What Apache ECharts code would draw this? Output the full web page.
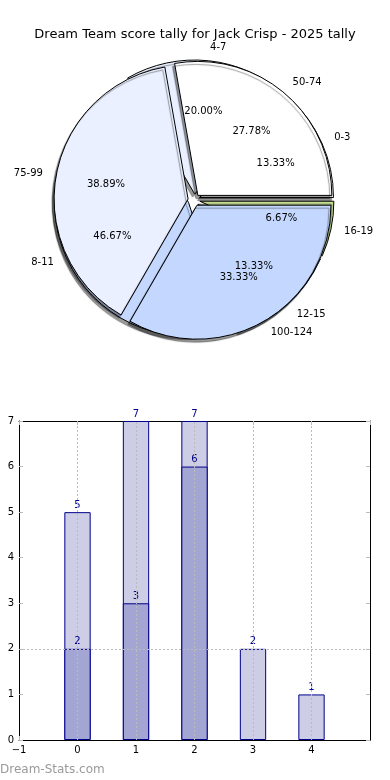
<!DOCTYPE html>
<html><head><meta charset="utf-8">
<script src="https://cdn.jsdelivr.net/npm/echarts@6/dist/echarts.min.js"></script>
<style>html,body{margin:0;padding:0;background:#fff}#c{width:390px;height:780px}</style>
</head><body><div id="c"></div>
<script>
// ---- data ----
const titleText = 'Dream Team score tally for Jack Crisp - 2025 tally';
const pieInnerCats = ['0-3', '4-7', '8-11', '12-15', '16-19'];
const pieInnerVals = [2, 3, 7, 2, 1];
const pieOuterCats = ['50-74', '75-99', '100-124'];
const pieOuterVals = [5, 7, 6];
const barCats = [0, 1, 2, 3, 4];
const barTotal = [5, 7, 7, 2, 1];
const barPart = [2, 3, 6, 0, 0];
const xTicks = [-1, 0, 1, 2, 3, 4];
const yTicks = [0, 1, 2, 3, 4, 5, 6, 7];
const refLineY = [2];
const watermark = 'Dream-Stats.com';

// ---- styles ----
const innerColors = ['#ffffff', '#eaf0ff', '#c4d8ff', '#aac4f0', '#c6df92'];
const outerColors = ['#ffffff', '#eaf0ff', '#c4d8ff'];
const FONT = 'DejaVu Sans';
const C = [194, 200], R = 134, OFF = 6;

function pieSectors(cats, vals, colors, z) {
  return {
    type: 'pie', z: z, center: C, radius: [0, R], startAngle: 0, clockwise: false,
    selectedMode: 'multiple', selectedOffset: OFF, avoidLabelOverlap: false,
    silent: true, emphasis: { disabled: true },
    data: cats.map((n, i) => ({ name: n, value: vals[i], selected: true, itemStyle: { color: colors[i] } })),
    itemStyle: { borderColor: '#000', borderWidth: 1, shadowColor: 'rgba(0,0,0,0.4)', shadowBlur: 1, shadowOffsetX: -2, shadowOffsetY: 3 },
    label: { show: true, position: 'outside', fontSize: 10, color: '#000', fontFamily: FONT, distanceToLabelLine: 0 },
    labelLine: { show: false, length: R * 0.1, length2: 0 }
  };
}
function piePct(cats, vals, z) {
  return {
    type: 'pie', z: z, center: C, radius: [0, R * 1.2], startAngle: 0, clockwise: false,
    selectedMode: 'multiple', selectedOffset: OFF, avoidLabelOverlap: false,
    silent: true, emphasis: { disabled: true },
    data: cats.map((n, i) => ({ name: n, value: vals[i], selected: true })),
    itemStyle: { color: 'rgba(0,0,0,0)', borderWidth: 0 },
    label: { show: true, position: 'inside', fontSize: 10, color: '#000', fontFamily: FONT,
      formatter: p => p.percent.toFixed(2) + '%' },
    labelLine: { show: false }
  };
}

const tickStyle = { inside: true, length: 4, lineStyle: { color: '#bbb', width: 1 } };
const axisLineStyle = { show: true, onZero: false, lineStyle: { color: '#000', width: 1 } };

const option = {
  animation: false,
  textStyle: { fontFamily: FONT },
  title: { text: titleText, left: 'center', top: 23, textStyle: { fontSize: 13, fontWeight: 'normal', color: '#000', fontFamily: FONT } },
  grid: { left: 19, right: 20, top: 421, bottom: 40 },
  xAxis: [
    { type: 'value', min: xTicks[0], max: xTicks[xTicks.length - 1] + 1, interval: 1, position: 'bottom',
      axisLine: axisLineStyle, axisTick: tickStyle, splitLine: { show: false },
      axisLabel: { color: '#000', fontSize: 10, margin: 5, showMaxLabel: false, fontFamily: FONT,
        formatter: v => String(v).replace('-', '\u2212') } },
    { type: 'value', min: xTicks[0], max: xTicks[xTicks.length - 1] + 1, interval: 1, position: 'top',
      axisLine: axisLineStyle, axisTick: tickStyle, splitLine: { show: false }, axisLabel: { show: false } }
  ],
  yAxis: [
    { type: 'value', min: yTicks[0], max: yTicks[yTicks.length - 1], interval: 1, position: 'left',
      axisLine: axisLineStyle, axisTick: tickStyle, splitLine: { show: false },
      axisLabel: { color: '#000', fontSize: 10, margin: 5, fontFamily: FONT } },
    { type: 'value', min: yTicks[0], max: yTicks[yTicks.length - 1], interval: 1, position: 'right',
      axisLine: axisLineStyle, axisTick: tickStyle, splitLine: { show: false }, axisLabel: { show: false } }
  ],
  graphic: [
    { type: 'text', left: 0, top: 764, style: { text: watermark, fill: '#9a9a9a', font: '12px "DejaVu Sans"' } }
  ],
  series: [
    pieSectors(pieInnerCats, pieInnerVals, innerColors, 1),
    pieSectors(pieOuterCats, pieOuterVals, outerColors, 2),
    piePct(pieInnerCats, pieInnerVals, 3),
    piePct(pieOuterCats, pieOuterVals, 3),
    {
      type: 'bar', xAxisIndex: 0, yAxisIndex: 0, z: 2, barWidth: '45%', barGap: '-100%',
      data: barCats.map((c, i) => [c, barTotal[i]]),
      itemStyle: { color: '#cdcde6', borderColor: '#00008b', borderWidth: 1 },
      label: { show: true, position: 'top', distance: 2, color: '#00008b', fontSize: 10, fontFamily: FONT,
        formatter: p => p.value[1] },
      markLine: {
        silent: true, symbol: 'none', animation: false,
        label: { show: false },
        lineStyle: { color: '#bbbbbb', type: [2, 2], width: 1 },
        data: xTicks.slice(1).map(v => ({ xAxis: v })).concat(refLineY.map(v => ({ yAxis: v })))
      }
    },
    {
      type: 'bar', xAxisIndex: 0, yAxisIndex: 0, z: 3, barWidth: '45%', barGap: '-100%',
      data: barCats.map((c, i) => barPart[i] > 0 ? [c, barPart[i]] : [c, '-']),
      itemStyle: { color: '#a3a6d3', borderColor: '#00008b', borderWidth: 1 },
      label: { show: true, position: 'top', distance: 2, color: '#00008b', fontSize: 10, fontFamily: FONT,
        formatter: p => p.value[1] }
    }
  ]
};
const chart = echarts.init(document.getElementById('c'), null, { renderer: 'canvas' });
chart.setOption(option);
</script></body></html>
